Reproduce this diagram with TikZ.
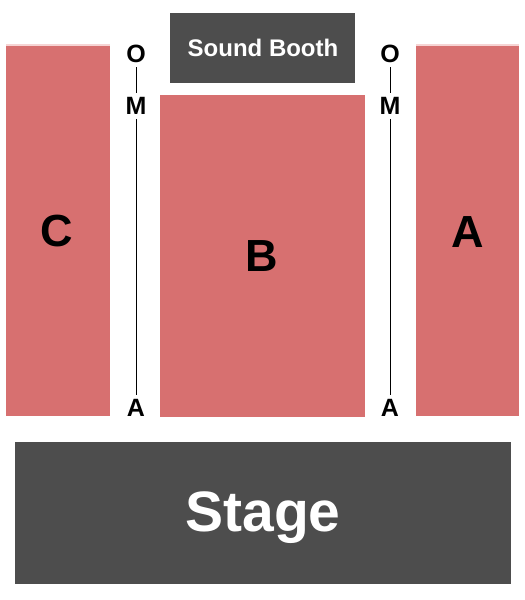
\documentclass[tikz,border=0pt]{standalone}
\usepackage{fontspec}
\setmainfont{Liberation Sans}
\definecolor{sect}{HTML}{D77070}
\definecolor{dark}{HTML}{4D4D4D}
\definecolor{faint}{HTML}{F6D4D4}
\tikzset{
  sectbox/.style={fill=sect, draw=none},
  darkbox/.style={fill=dark, draw=none},
  rowlab/.style={font=\bfseries\fontsize{25}{25}\selectfont, inner sep=0pt},
  sectlab/.style={font=\bfseries\fontsize{45}{45}\selectfont, inner sep=0pt},
  rowline/.style={draw=black, line width=0.8pt}
}
\begin{document}
\begin{tikzpicture}[x=1pt,y=-1pt]
\useasboundingbox (0,0) rectangle (525,600);
% sections
\fill[faint] (6,43.5) rectangle (110,46);
\fill[faint] (416,43.5) rectangle (519,46);
\node[sectbox, minimum width=104pt, minimum height=370pt, inner sep=0pt, anchor=north west] (C) at (6,46) {};
\node[sectbox, minimum width=205pt, minimum height=322pt, inner sep=0pt, anchor=north west] (B) at (160,95) {};
\node[sectbox, minimum width=103pt, minimum height=370pt, inner sep=0pt, anchor=north west] (A) at (416,46) {};
\node[darkbox, minimum width=185pt, minimum height=70pt, inner sep=0pt, anchor=north west] (booth) at (170,13) {};
\node[darkbox, minimum width=496pt, minimum height=142pt, inner sep=0pt, anchor=north west] (stage) at (15,442) {};
% labels
\node[sectlab] (Clab) at (57,231) {C};
\node[sectlab] (Blab) at (262,256) {B};
\node[sectlab] (Alab) at (468,232) {A};
\node[text=white, font=\bfseries\fontsize{24}{24}\selectfont, inner sep=0pt] (boothlab) at (263,48) {Sound Booth};
\node[text=white, font=\bfseries\fontsize{57}{57}\selectfont, inner sep=0pt] (stagelab) at (263,518) {Stage};
% row markers left
\node[rowlab] (lO) at (136,54) {O};
\node[rowlab] (lM) at (136,106) {M};
\node[rowlab] (lA) at (136,408) {A};
\draw[rowline] ([yshift=-4pt]lO.south) -- ([yshift=4pt]lM.north);
\draw[rowline] ([yshift=-4pt]lM.south) -- ([yshift=4pt]lA.north);
% row markers right
\node[rowlab] (rO) at (390,54) {O};
\node[rowlab] (rM) at (390,106) {M};
\node[rowlab] (rA) at (390,408) {A};
\draw[rowline] ([yshift=-4pt]rO.south) -- ([yshift=4pt]rM.north);
\draw[rowline] ([yshift=-4pt]rM.south) -- ([yshift=4pt]rA.north);
\end{tikzpicture}
\end{document}
